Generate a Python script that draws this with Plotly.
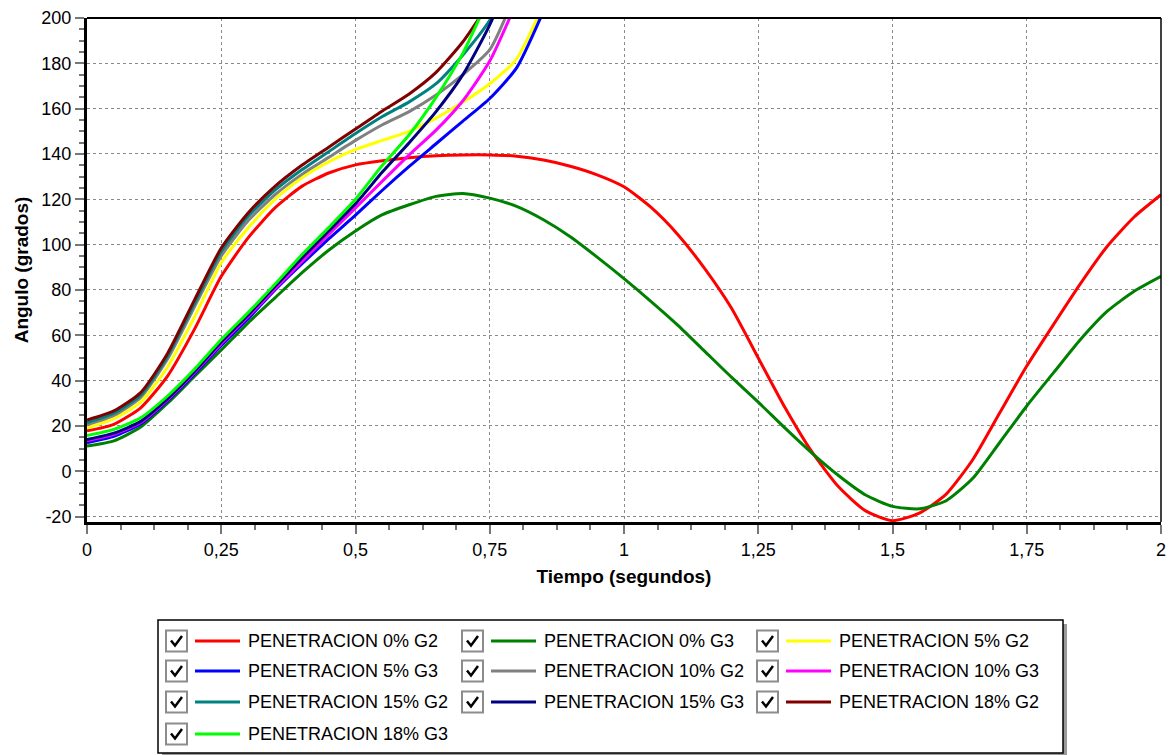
import plotly.graph_objects as go

# ---------------- data ----------------
TIME = [round(i * 0.05, 2) for i in range(41)]  # 0 .. 2.0 s

NAMES = [
    "PENETRACION 0% G2", "PENETRACION 0% G3", "PENETRACION 5% G2",
    "PENETRACION 5% G3", "PENETRACION 10% G2", "PENETRACION 10% G3",
    "PENETRACION 15% G2", "PENETRACION 15% G3", "PENETRACION 18% G2",
    "PENETRACION 18% G3",
]
COLORS = ["#FF0000", "#008000", "#FFFF00", "#0000FF", "#808080",
          "#FF00FF", "#008080", "#000080", "#800000", "#00FF00"]

pen0_g2 = [17.8, 20.7, 28.0, 42.0, 62.6, 86.0, 103.0, 116.2, 125.7, 131.6,
           135.2, 137.0, 138.3, 139.2, 139.6, 139.6, 139.0, 137.3, 134.6, 130.8,
           125.5, 116.5, 104.5, 89.5, 72.0, 50.0, 28.0, 8.5, -7.0, -17.5,
           -21.8, -18.5, -10.1, 5.3, 25.9, 46.4, 64.8, 82.8, 99.3, 112.2, 122.0]
pen0_g3 = [11.1, 13.4, 19.5, 30.0, 41.8, 53.5, 65.5, 76.5, 87.5, 97.5,
           106.0, 113.2, 117.6, 121.3, 122.6, 120.5, 116.9, 111.0, 103.5, 94.5,
           85.0, 75.0, 64.5, 53.0, 41.5, 30.5, 19.0, 8.0, -2.0, -10.5,
           -15.5, -16.6, -13.0, -3.0, 12.8, 28.8, 43.5, 58.1, 70.6, 79.4, 86.0]
pen5_g2 = [19.0, 23.2, 30.5, 46.0, 68.0, 92.0, 107.3, 120.0, 129.5, 136.5,
           142.0, 146.0, 150.0, 155.8, 162.9, 171.0, 182.0, 206.0]
pen5_g3 = [12.6, 15.4, 20.8, 31.0, 42.8, 55.5, 67.3, 80.0, 91.5, 102.5,
           113.0, 124.0, 134.5, 144.5, 154.5, 164.5, 178.0, 203.0]
pen10_g2 = [20.5, 24.6, 32.6, 49.5, 72.5, 95.0, 110.5, 122.0, 131.0, 138.5,
            146.0, 152.9, 158.7, 166.0, 175.0, 186.0, 212.0]
pen10_g3 = [13.5, 16.3, 21.5, 31.6, 43.5, 56.3, 68.3, 80.5, 92.5, 104.5,
            116.2, 128.0, 139.6, 150.5, 163.5, 181.0, 207.0]
pen15_g2 = [21.5, 25.6, 33.6, 50.8, 74.0, 97.0, 112.5, 124.0, 133.0, 141.0,
            149.0, 156.5, 163.0, 171.0, 183.7, 199.0, 222.0]
pen15_g3 = [14.0, 16.8, 22.0, 32.0, 44.0, 57.0, 69.0, 81.5, 94.0, 106.0,
            118.0, 132.0, 145.0, 158.7, 175.0, 197.0, 225.0]
pen18_g2 = [22.6, 26.6, 34.7, 52.0, 75.5, 98.5, 114.0, 125.7, 135.0, 143.0,
            151.0, 159.0, 166.5, 176.0, 189.5, 207.0]
pen18_g3 = [15.8, 18.5, 23.6, 33.2, 45.0, 58.1, 70.0, 82.5, 95.5, 107.5,
            120.0, 135.0, 148.5, 165.0, 184.5, 210.0]

SERIES = [pen0_g2, pen0_g3, pen5_g2, pen5_g3, pen10_g2, pen10_g3,
          pen15_g2, pen15_g3, pen18_g2, pen18_g3]

X_TICKS = [0, 0.25, 0.5, 0.75, 1, 1.25, 1.5, 1.75, 2]
X_LABELS = ["0", "0,25", "0,5", "0,75", "1", "1,25", "1,5", "1,75", "2"]
Y_TICKS = [-20, 0, 20, 40, 60, 80, 100, 120, 140, 160, 180, 200]
Y_LABELS = [str(v) for v in Y_TICKS]

# ---------------- figure ----------------
W, H = 1170, 755
L, R, T, B = 87, 1161, 18, 522
FONT = "Arial, Liberation Sans, sans-serif"


def fx(p):
    return (p - L) / (R - L)


def fy(p):
    return (B - p) / (B - T)


fig = go.Figure()
for name, col, vals in zip(NAMES, COLORS, SERIES):
    fig.add_trace(go.Scatter(
        x=TIME[:len(vals)], y=vals, mode="lines", name=name,
        line=dict(color=col, width=3, shape="spline", smoothing=0.6),
        showlegend=False,
    ))

fig.update_layout(
    width=W, height=H,
    margin=dict(l=L, r=W - R, t=T, b=H - B),
    paper_bgcolor="white", plot_bgcolor="white",
    font=dict(family=FONT, size=18, color="black"),
    xaxis=dict(
        range=[0, 2], tickvals=X_TICKS, ticktext=X_LABELS,
        showline=True, linecolor="black", linewidth=3,
        ticks="outside", ticklen=9, tickwidth=1.5, tickcolor="#777",
        showgrid=True, gridcolor="#8a8a8a", griddash="dot", gridwidth=1,
        zeroline=False, automargin=False,
        minor=dict(dtick=0.0625, tick0=0, ticks="outside", ticklen=5,
                   tickcolor="#777", tickwidth=1.5, showgrid=False),
        tickfont=dict(size=18),
        ticklabelstandoff=0,
        title=dict(text="<b>Tiempo (segundos)</b>", font=dict(size=19),
                   standoff=12),
    ),
    yaxis=dict(
        range=[-22.4, 200], tickvals=Y_TICKS, ticktext=Y_LABELS,
        showline=True, linecolor="black", linewidth=3,
        ticks="outside", ticklen=9, tickwidth=1.5, tickcolor="#777",
        showgrid=True, gridcolor="#8a8a8a", griddash="dot", gridwidth=1,
        zeroline=False, automargin=False,
        minor=dict(dtick=5, tick0=0, ticks="outside", ticklen=5,
                   tickcolor="#777", tickwidth=1.5, showgrid=False),
        tickfont=dict(size=18),
        ticklabelstandoff=0,
        title=dict(text="<b>Angulo (grados)</b>", font=dict(size=19),
                   standoff=8),
    ),
)

shapes = []
# top and right border of plot
shapes.append(dict(type="line", xref="paper", yref="paper", x0=0, x1=1, y0=1, y1=1,
                   line=dict(color="black", width=2)))
shapes.append(dict(type="line", xref="paper", yref="paper", x0=1, x1=1, y0=0, y1=1,
                   line=dict(color="black", width=1.5)))

# custom legend box with shadow
LX0, LY0, LX1, LY1 = 158, 620, 1063, 753
shapes.append(dict(type="rect", xref="paper", yref="paper",
                   x0=fx(LX0 + 4), x1=fx(LX1 + 4), y0=fy(LY1 + 4), y1=fy(LY0 + 4),
                   line=dict(width=0), fillcolor="#9a9a9a", layer="below"))
shapes.append(dict(type="rect", xref="paper", yref="paper",
                   x0=fx(LX0), x1=fx(LX1), y0=fy(LY1), y1=fy(LY0),
                   line=dict(color="black", width=1.5), fillcolor="white", layer="below"))

annotations = []
COL_X = [166, 462, 757]
ROW_Y = [641, 671, 702, 734]
for i, (name, col) in enumerate(zip(NAMES, COLORS)):
    r, c = divmod(i, 3)
    bx, cy = COL_X[c], ROW_Y[r]
    # checkbox
    shapes.append(dict(type="rect", xref="paper", yref="paper",
                       x0=fx(bx), x1=fx(bx + 21), y0=fy(cy + 10.5), y1=fy(cy - 10.5),
                       line=dict(color="#8c8c8c", width=2), fillcolor="white"))
    shapes.append(dict(type="path", xref="paper", yref="paper",
                       path=(f"M {fx(bx + 5)},{fy(cy - 0.5)} L {fx(bx + 9)},{fy(cy + 4.5)} "
                             f"L {fx(bx + 16)},{fy(cy - 5)}"),
                       line=dict(color="black", width=2.5)))
    # line sample
    shapes.append(dict(type="line", xref="paper", yref="paper",
                       x0=fx(bx + 29), x1=fx(bx + 74), y0=fy(cy), y1=fy(cy),
                       line=dict(color=col, width=3)))
    annotations.append(dict(xref="paper", yref="paper", x=fx(bx + 80), y=fy(cy),
                            xanchor="left", yanchor="middle", showarrow=False,
                            text=name, font=dict(size=18, family=FONT, color="black")))

fig.update_layout(shapes=shapes, annotations=annotations)
fig.write_html("out.html", config={"displayModeBar": False},
               post_script="document.body.style.margin='0';document.body.style.overflow='hidden';")
